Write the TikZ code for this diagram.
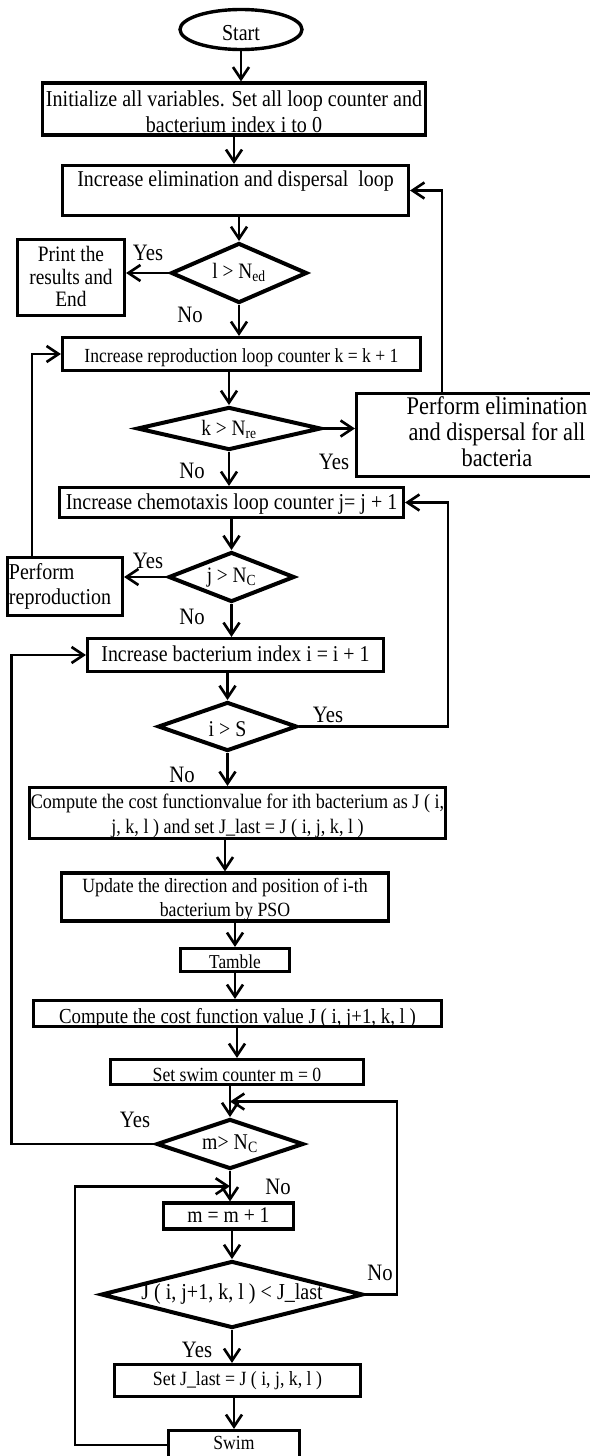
\documentclass[tikz,border=0pt]{standalone}
\usepackage{fontspec}
\setmainfont{Liberation Serif}[FakeStretch=0.88]
\usetikzlibrary{shapes.geometric,arrows.meta,calc}
\newcommand{\tx}[2][0pt]{\raisebox{#1}[\height][\depth]{\begin{tabular}{@{}c@{}}#2\end{tabular}}}
\newcommand{\txl}[2][0pt]{\raisebox{#1}[\height][\depth]{\begin{tabular}{@{}l@{}}#2\end{tabular}}}
\newcommand{\setfz}[2]{\fontsize{#1pt}{#2pt}\selectfont}
\tikzset{
 box/.style={draw, rectangle, line width=3.2pt, inner sep=0pt},
 dia/.style={draw, diamond, line width=4pt, inner sep=0pt},
 term/.style={draw, ellipse, line width=3.4pt, inner sep=0pt},
 arr/.style={line width=2.6pt, -{Straight Barb[length=12pt,width=16pt]}},
 lbl/.style={inner sep=0pt, font=\setfz{23.5}{27}},
}
\begin{document}
\begin{tikzpicture}[x=1pt,y=-1pt]
\useasboundingbox (0,0) rectangle (589,1456);

% terminal and boxes
\node[term, minimum width=122pt, minimum height=40pt, font=\setfz{22.8}{26}] (start) at (241,29.5) {\tx[-5.5pt]{Start}};
\node[box, minimum width=383pt, minimum height=47pt, font=\setfz{22.8}{26}] (init) at (234,109)
  {\tx[-5.5pt]{Initialize all variables. Set all loop counter and\\ bacterium index i to 0}};
\node[box, minimum width=346pt, minimum height=50pt, font=\setfz{22.6}{26}] (elim) at (235.5,190.5)
  {\tx[9pt]{Increase elimination and dispersal~ loop}};
\node[box, minimum width=107pt, minimum height=76pt, font=\setfz{22}{22.5}] (print) at (71,277.5)
  {\tx[-2pt]{Print the\\ results and\\ End}};
\node[box, minimum width=358pt, minimum height=33pt, font=\setfz{20}{23}] (repro) at (241.5,354)
  {\tx[-4pt]{Increase reproduction loop counter k = k + 1}};
\node[box, minimum width=281pt, minimum height=83pt, font=\setfz{25.4}{26}] (perfelim) at (497,435)
  {\tx[-0.5pt]{Perform elimination\\ and dispersal for all\\ bacteria}};
\node[box, minimum width=344pt, minimum height=30pt, font=\setfz{22.7}{26}] (chemo) at (231.5,502.5)
  {\tx[-2pt]{Increase chemotaxis loop counter j= j + 1}};
\node[box, minimum width=115pt, minimum height=58pt, font=\setfz{22.7}{25}] (reprod) at (65,586.5)
  {\makebox[112pt][l]{\txl{Perform\\ reproduction}}};
\node[box, minimum width=296pt, minimum height=33pt, font=\setfz{22.6}{26}] (bact) at (235.5,655)
  {\tx[-1.5pt]{Increase bacterium index i = i + 1}};
\node[box, minimum width=416pt, minimum height=51pt, font=\setfz{20.6}{25}] (cost1) at (237.5,813)
  {\tx[-2.5pt]{Compute the cost functionvalue for ith bacterium as J ( i,\\ j, k, l ) and set J\_last = J ( i, j, k, l )}};
\node[box, minimum width=327pt, minimum height=47pt, font=\setfz{20.2}{24}] (update) at (225,897)
  {\tx[-3pt]{Update the direction and position of i-th\\ bacterium by PSO}};
\node[box, minimum width=109pt, minimum height=23pt, font=\setfz{19.7}{23}] (tamble) at (235,960)
  {\tx[-3.4pt]{Tamble}};
\node[box, minimum width=408pt, minimum height=26pt, font=\setfz{21.4}{25}] (cost2) at (237.5,1013.5)
  {\tx[-4.5pt]{Compute the cost function value J ( i, j+1, k, l )}};
\node[box, minimum width=253pt, minimum height=25pt, font=\setfz{20.1}{23}] (swim0) at (237,1072)
  {\tx[-5pt]{Set swim counter m = 0}};
\node[box, minimum width=130pt, minimum height=25pt, font=\setfz{22.3}{26}] (minc) at (228.5,1216)
  {\tx[-1.5pt]{m = m + 1}};
\node[box, minimum width=246pt, minimum height=32pt, font=\setfz{20.2}{23}] (setj) at (237.5,1380.5)
  {\tx{Set J\_last = J ( i, j, k, l )}};
\node[box, minimum width=131pt, minimum height=29pt, font=\setfz{20}{23}] (swim) at (234,1445)
  {\tx{Swim}};

% decisions
\node[dia, minimum width=136pt, minimum height=60pt, font=\setfz{22}{26}] (d1) at (239,273)
  {\makebox[0pt]{\tx{l > N\textsubscript{ed}}}};
\node[dia, minimum width=184pt, minimum height=43pt, font=\setfz{22}{26}] (d2) at (229,428.5)
  {\makebox[0pt]{\tx[-2pt]{k > N\textsubscript{re}}}};
\node[dia, minimum width=126pt, minimum height=50pt, font=\setfz{22}{26}] (d3) at (231.5,577)
  {\makebox[0pt]{\tx{j > N\textsubscript{C}}}};
\node[dia, minimum width=139pt, minimum height=49pt, font=\setfz{22.5}{26}] (d4) at (227.5,726.5)
  {\makebox[0pt]{\tx[-5pt]{i > S}}};
\node[dia, minimum width=147pt, minimum height=50pt, font=\setfz{22.5}{26}] (d5) at (230,1144)
  {\makebox[0pt]{\tx{m> N\textsubscript{C}}}};
\node[dia, minimum width=262pt, minimum height=67pt, font=\setfz{22.8}{26}] (d6) at (232,1294.5)
  {\makebox[0pt]{\tx{J ( i, j+1, k, l ) < J\_last}}};

% labels
\node[lbl] (y1) at (148,253) {Yes};
\node[lbl] (n1) at (190,315) {No};
\node[lbl] (y2) at (334,462) {Yes};
\node[lbl] (n2) at (192,471) {No};
\node[lbl] (y3) at (148,561) {Yes};
\node[lbl] (n3) at (192,617) {No};
\node[lbl] (y4) at (328,715) {Yes};
\node[lbl] (n4) at (182,775) {No};
\node[lbl] (y5) at (135,1120) {Yes};
\node[lbl] (n5) at (278,1187) {No};
\node[lbl] (n6) at (380,1273) {No};
\node[lbl] (y6) at (197,1350) {Yes};

% main flow
\draw[arr] (start.south) -- (start.south |- init.north);
\draw[arr] (init.south) -- (init.south |- elim.north);
\draw[arr] (elim.south -| d1.north) -- (d1.north);
\draw[arr] (d1.south) -- (d1.south |- repro.north);
\draw[arr] (repro.south -| d2.north) -- (d2.north);
\draw[arr] (d2.south) -- (d2.south |- chemo.north);
\draw[arr] (chemo.south -| d3.north) -- (d3.north);
\draw[arr] (d3.south) -- (d3.south |- bact.north);
\draw[arr] (bact.south -| d4.north) -- (d4.north);
\draw[arr] (d4.south) -- (d4.south |- cost1.north);
\draw[arr] (cost1.south -| update.north) -- (update.north);
\draw[arr] (update.south -| tamble.north) -- (tamble.north);
\draw[arr] (tamble.south) -- (tamble.south |- cost2.north);
\draw[arr] (cost2.south -| swim0.north) -- (swim0.north);
\draw[arr] (swim0.south -| d5.north) -- (d5.north);
\draw[arr] (d5.south) -- (d5.south |- minc.north);
\draw[arr] (minc.south -| d6.north) -- (d6.north);
\draw[arr] (d6.south) -- (d6.south |- setj.north);
\draw[arr] (setj.south -| swim.north) -- (swim.north);

% side branches
\draw[arr] (d1.west) -- (d1.west -| print.east);
\draw[arr] (d2.east) -- (d2.east -| perfelim.west);
\draw[arr] ([xshift=-55pt]perfelim.north) |- (elim.east);
\draw[arr] (d3.west) -- (d3.west -| reprod.east);
\draw[arr] ([xshift=-33pt]reprod.north) |- (repro.west);
\draw[arr] (d4.east) -- ++(149,0) |- (chemo.east);
\draw[arr] (d5.west) -- ++(-143,0) |- (bact.west);
\draw[arr] (d6.east) -- ++(32,0) |- ($(swim0.south -| d5.north)!0.5!(d5.north)$);
\draw[arr] (swim.west) -- ++(-92,0) |- ($(d5.south)!0.5!(d5.south |- minc.north)$);
\end{tikzpicture}
\end{document}
